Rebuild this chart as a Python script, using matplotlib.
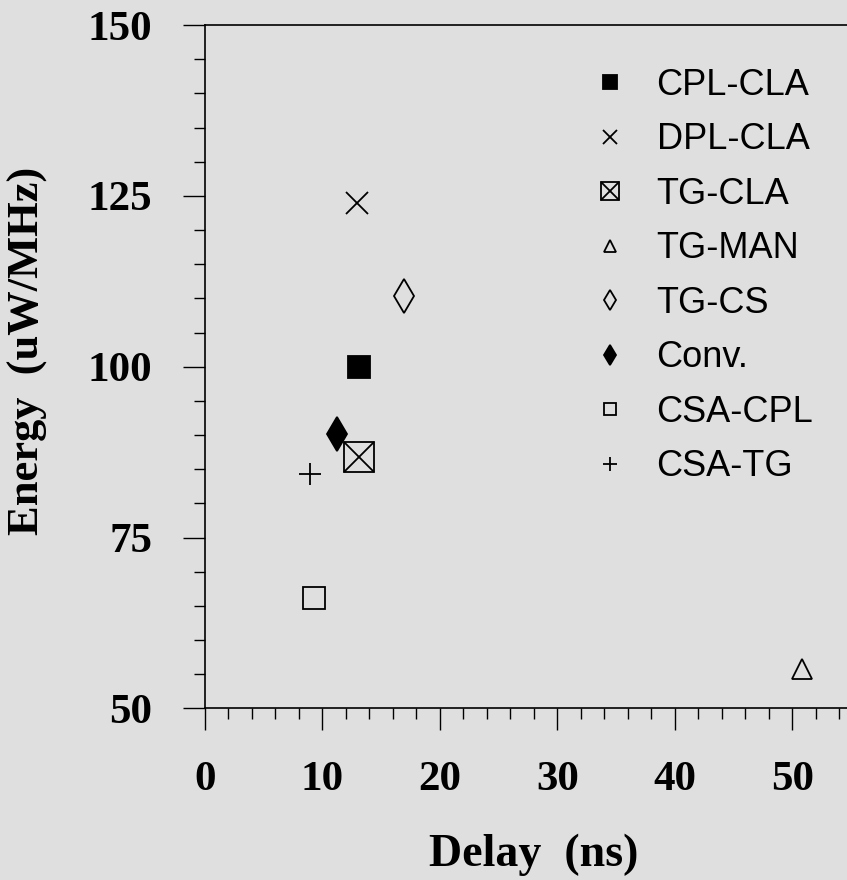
import matplotlib.pyplot as plt
from matplotlib.ticker import MultipleLocator

# delay (ns) and energy (uW/MHz) for each adder design
names = ['CPL-CLA', 'DPL-CLA', 'TG-CLA', 'TG-MAN', 'TG-CS', 'Conv.', 'CSA-CPL', 'CSA-TG']
delay = [13.1, 12.9, 13.1, 50.8, 16.9, 11.2, 9.3, 8.9]
energy = [100.0, 124.0, 86.8, 55.7, 110.3, 90.1, 66.1, 84.3]

bg = '#dfdfdf'
fig = plt.figure(figsize=(8.47, 8.80), dpi=100, facecolor=bg)
ax = fig.add_axes([0.242, 0.195, 0.758, 0.7765], facecolor=bg)

# marker styles: (marker, size, filled)
styles = {
    'CPL-CLA': ('s', 16, True),
    'DPL-CLA': ('x', 16, False),
    'TG-MAN': ('^', 15, False),
    'TG-CS': ('d', 17, False),
    'Conv.': ('d', 17, True),
    'CSA-CPL': ('s', 15.5, False),
    'CSA-TG': ('+', 16, False),
}

handles = []
for n, x, y in zip(names, delay, energy):
    if n == 'TG-CLA':
        h1, = ax.plot(x, y, 's', ms=22, mfc='none', mec='black', mew=1.3)
        h2, = ax.plot(x, y, 'x', ms=22, mec='black', mew=1.3)
        handles.append((h1, h2))
        continue
    m, s, filled = styles[n]
    h, = ax.plot(x, y, m, ms=s, mfc='black' if filled else 'none',
                 mec='black', mew=1.3)
    handles.append(h)

ax.set_xlim(0, 54.64)
ax.set_ylim(50, 150)
ax.xaxis.set_major_locator(MultipleLocator(10))
ax.xaxis.set_minor_locator(MultipleLocator(2))
ax.yaxis.set_major_locator(MultipleLocator(25))
ax.yaxis.set_minor_locator(MultipleLocator(5))

ax.spines['right'].set_visible(False)
for s in ['left', 'bottom', 'top']:
    ax.spines[s].set_linewidth(1.2)
ax.tick_params(which='major', direction='out', length=16, width=1.0, pad=22,
               labelsize=31)
ax.tick_params(which='minor', direction='out', length=8, width=1.0)
for lab in ax.get_xticklabels() + ax.get_yticklabels():
    lab.set_fontfamily('Liberation Serif')
    lab.set_fontweight('bold')

ax.set_xlabel('Delay  (ns)', fontfamily='Liberation Serif', fontweight='bold',
              fontsize=33, va='top')
ax.xaxis.set_label_coords(0.512, -0.183)
ax.set_ylabel('Energy  (uW/MHz)', fontfamily='Liberation Serif', fontweight='bold',
              fontsize=32)
ax.yaxis.set_label_coords(-0.245, 0.523)

leg = ax.legend(handles, names, loc='upper left', bbox_to_anchor=(0.66, 0.96),
                bbox_transform=fig.transFigure, frameon=False, markerscale=0.6,
                handlelength=1.0, handletextpad=0.8, labelspacing=0.54,
                prop={'family': 'Liberation Sans', 'size': 26})

fig.savefig('out.png', dpi=100, facecolor=bg)
